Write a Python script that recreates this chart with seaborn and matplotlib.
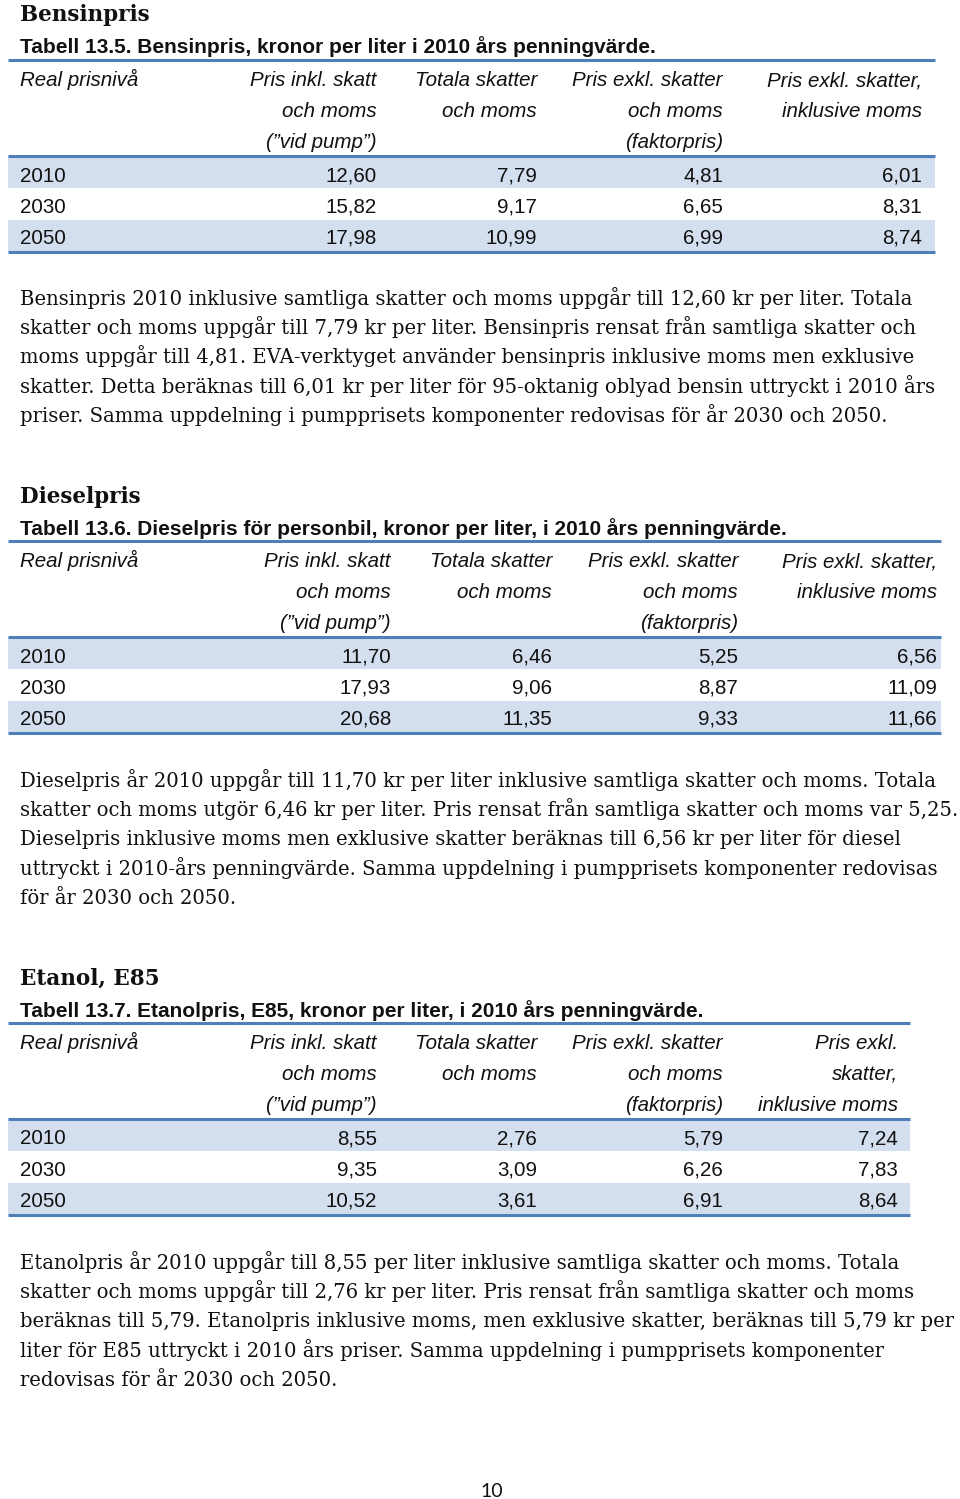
import matplotlib
matplotlib.use("Agg")
import matplotlib.pyplot as plt
import seaborn as sns

# ---- data ----
years = ["2010", "2030", "2050"]

bensin_pump = [12.60, 15.82, 17.98]
bensin_tax = [7.79, 9.17, 10.99]
bensin_factor = [4.81, 6.65, 6.99]
bensin_vat = [6.01, 8.31, 8.74]

diesel_pump = [11.70, 17.93, 20.68]
diesel_tax = [6.46, 9.06, 11.35]
diesel_factor = [5.25, 8.87, 9.33]
diesel_vat = [6.56, 11.09, 11.66]

etanol_pump = [8.55, 9.35, 10.52]
etanol_tax = [2.76, 3.09, 3.61]
etanol_factor = [5.79, 6.26, 6.91]
etanol_vat = [7.24, 7.83, 8.64]

header_std = [["Real prisnivå"],
              ["Pris inkl. skatt", "och moms", "(\u201dvid pump\u201d)"],
              ["Totala skatter", "och moms"],
              ["Pris exkl. skatter", "och moms", "(faktorpris)"],
              ["Pris exkl. skatter,", "inklusive moms"]]
header_etanol = header_std[:4] + [["Pris exkl.", "skatter,", "inklusive moms"]]

bensin_text = [
    "Bensinpris 2010 inklusive samtliga skatter och moms uppgår till 12,60 kr per liter. Totala",
    "skatter och moms uppgår till 7,79 kr per liter. Bensinpris rensat från samtliga skatter och",
    "moms uppgår till 4,81. EVA-verktyget använder bensinpris inklusive moms men exklusive",
    "skatter. Detta beräknas till 6,01 kr per liter för 95-oktanig oblyad bensin uttryckt i 2010 års",
    "priser. Samma uppdelning i pumpprisets komponenter redovisas för år 2030 och 2050.",
]
diesel_text = [
    "Dieselpris år 2010 uppgår till 11,70 kr per liter inklusive samtliga skatter och moms. Totala",
    "skatter och moms utgör 6,46 kr per liter. Pris rensat från samtliga skatter och moms var 5,25.",
    "Dieselpris inklusive moms men exklusive skatter beräknas till 6,56 kr per liter för diesel",
    "uttryckt i 2010-års penningvärde. Samma uppdelning i pumpprisets komponenter redovisas",
    "för år 2030 och 2050.",
]
etanol_text = [
    "Etanolpris år 2010 uppgår till 8,55 per liter inklusive samtliga skatter och moms. Totala",
    "skatter och moms uppgår till 2,76 kr per liter. Pris rensat från samtliga skatter och moms",
    "beräknas till 5,79. Etanolpris inklusive moms, men exklusive skatter, beräknas till 5,79 kr per",
    "liter för E85 uttryckt i 2010 års priser. Samma uppdelning i pumpprisets komponenter",
    "redovisas för år 2030 och 2050.",
]

# ---- style ----
sns.set_theme(style="white")
plt.rcParams["font.family"] = ["DejaVu Sans"]

BLUE = "#4F7FB8"
SHADE = "#D3DFEE"
SANS = "Liberation Sans"
SERIF = "DejaVu Serif"

fig = plt.figure(figsize=(9.6, 14.99), dpi=100)
ax = fig.add_axes([0, 0, 1, 1])
ax.set_xlim(0, 960)
ax.set_ylim(1499, 0)
ax.axis("off")


def fmt(v):
    return f"{v:.2f}".replace(".", ",")


def draw_table(top, right, col_x, headers, cols):
    left = 8
    hline = top + 95.5
    row_h = 32.3
    # shaded rows (1st and 3rd)
    for i in (0, 2):
        ax.fill_between([left, right], hline + i * row_h, hline + (i + 1) * row_h,
                        color=SHADE, lw=0)
    for y in (top, hline, top + 192):
        ax.plot([left, right], [y, y], color=BLUE, lw=2.2, solid_capstyle="butt")
    # header
    for j, lines in enumerate(headers):
        for k, t in enumerate(lines):
            x = 20 if j == 0 else col_x[j - 1]
            ha = "left" if j == 0 else "right"
            ax.text(x, top + 26 + k * 31, t, ha=ha, va="baseline",
                    family=SANS, style="italic", fontsize=14.8, color="#111111")
    # body
    for i, yr in enumerate(years):
        yb = hline + 26 + i * 31.2
        ax.text(20, yb, yr, ha="left", va="baseline", family=SANS,
                fontsize=14.8, color="#111111")
        for j, col in enumerate(cols):
            ax.text(col_x[j], yb, fmt(col[i]), ha="right", va="baseline",
                    family=SANS, fontsize=14.8, color="#111111")


def draw_section(head_y, title, caption, top, right, col_x, headers, cols, text, text_y):
    ax.text(20, head_y, title, ha="left", va="baseline", family=SERIF,
            weight="bold", fontsize=15.5, color="#111111")
    ax.text(20, head_y + 32, caption, ha="left", va="baseline", family=SANS,
            weight="bold", fontsize=15, color="#111111")
    draw_table(top, right, col_x, headers, cols)
    for k, line in enumerate(text):
        ax.text(20, text_y + k * 29.2, line, ha="left", va="baseline",
                family=SERIF, fontsize=14.15, color="#111111")


draw_section(21, "Bensinpris",
             "Tabell 13.5. Bensinpris, kronor per liter i 2010 års penningvärde.",
             60, 935, [377, 537, 723, 922], header_std,
             [bensin_pump, bensin_tax, bensin_factor, bensin_vat], bensin_text, 305)

draw_section(503, "Dieselpris",
             "Tabell 13.6. Dieselpris för personbil, kronor per liter, i 2010 års penningvärde.",
             541, 941, [391, 552, 738, 937], header_std,
             [diesel_pump, diesel_tax, diesel_factor, diesel_vat], diesel_text, 787)

draw_section(985, "Etanol, E85",
             "Tabell 13.7. Etanolpris, E85, kronor per liter, i 2010 års penningvärde.",
             1023, 910, [377, 537, 723, 898], header_etanol,
             [etanol_pump, etanol_tax, etanol_factor, etanol_vat], etanol_text, 1269)

ax.text(492, 1497, "10", ha="center", va="baseline", family="Lato",
        fontsize=14, color="#111111")

fig.savefig("out.png", dpi=100, facecolor="white")
